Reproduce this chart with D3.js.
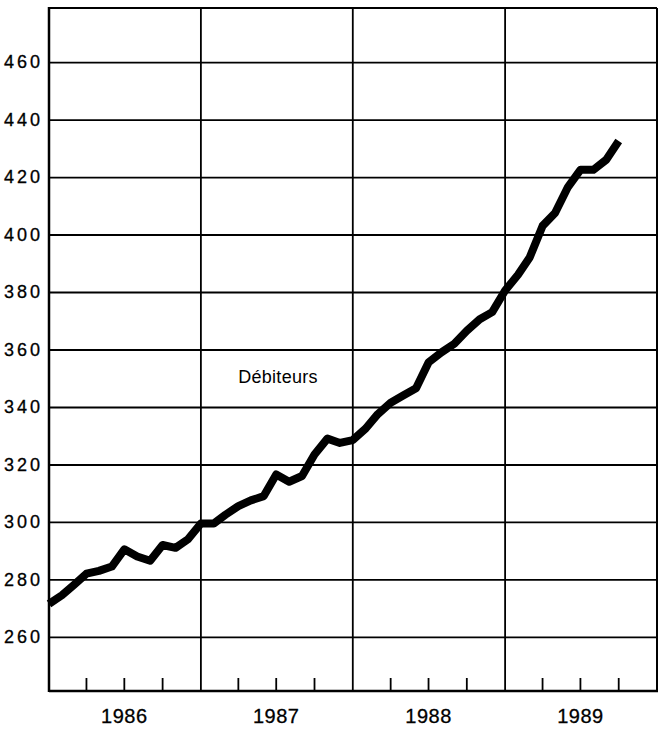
<!DOCTYPE html>
<html>
<head>
<meta charset="utf-8">
<script src="https://cdn.jsdelivr.net/npm/d3@7"></script>
<style>
  body { margin: 0; background: #fff; }
  text { font-family: "Liberation Sans", Arial, Helvetica, sans-serif; fill: #000; }
</style>
</head>
<body>
<script>

// monthly points, Jan 1986 to Oct 1989
let months = [
    '1986-01','1986-02','1986-03','1986-04','1986-05','1986-06','1986-07','1986-08','1986-09','1986-10','1986-11','1986-12',
    '1987-01','1987-02','1987-03','1987-04','1987-05','1987-06','1987-07','1987-08','1987-09','1987-10','1987-11','1987-12',
    '1988-01','1988-02','1988-03','1988-04','1988-05','1988-06','1988-07','1988-08','1988-09','1988-10','1988-11','1988-12',
    '1989-01','1989-02','1989-03','1989-04','1989-05','1989-06','1989-07','1989-08','1989-09','1989-10'
]

// Débiteurs
let values = [
    271.5, 274.5, 278, 282, 283, 284.5, 290.5, 288, 286.5, 292, 291, 294,
    299.5, 299.5, 302.5, 305.5, 307.5, 309, 316.5, 314, 316, 323.5, 329, 327.5,
    328.5, 332.5, 337.5, 341.5, 344, 346.5, 355.5, 359, 362, 366.5, 370.5, 373,
    380.5, 386, 392, 403, 407.5, 416.5, 422.5, 422.5, 426, 432.5
]

let yTicks = [260, 280, 300, 320, 340, 360, 380, 400, 420, 440, 460]
let years = ['1986', '1987', '1988', '1989']
let seriesLabel = 'Débiteurs'

let width = 661
let height = 732
let plotLeft = 49
let plotRight = 657
let plotTop = 8
let plotBottom = 691

let parseMonth = d3.timeParse('%Y-%m')
let parseYear = d3.timeParse('%Y')

let svg = d3.select('body')
            .append('svg')
            .attr('width', width)
            .attr('height', height)

let xScale = d3.scaleTime()
                .domain([parseYear('1986'), parseYear('1990')])
                .range([plotLeft, plotRight])

let yScale = d3.scaleLinear()
                .domain([241.2, 478.8])
                .range([plotBottom, plotTop])

// horizontal grid + labels
let yAxis = d3.axisLeft(yScale)
                .tickValues(yTicks)
                .tickSize(-(plotRight - plotLeft))
                .tickPadding(9)
                .tickFormat(d3.format('d'))

let yG = svg.append('g')
    .attr('transform', 'translate(' + plotLeft + ',0)')
    .call(yAxis)

yG.select('.domain').remove()
yG.selectAll('line')
    .attr('stroke', '#000')
    .attr('stroke-width', 1.8)
yG.selectAll('text')
    .attr('font-size', 18)
    .attr('letter-spacing', 3)
    .attr('dx', 3)
    .attr('stroke', '#000')
    .attr('stroke-width', 0.3)

// year boundaries
let yearStarts = years.slice(1).map((y) => parseYear(y))

svg.selectAll('.yearline')
    .data(yearStarts)
    .enter()
    .append('line')
    .attr('class', 'yearline')
    .attr('x1', (d) => xScale(d))
    .attr('x2', (d) => xScale(d))
    .attr('y1', plotTop)
    .attr('y2', plotBottom)
    .attr('stroke', '#000')
    .attr('stroke-width', 1.8)

// quarter ticks along the bottom
let quarters = []
years.forEach((y) => {
    ['04', '07', '10'].forEach((m) => {
        quarters.push(parseMonth(y + '-' + m))
    })
})

svg.selectAll('.qtick')
    .data(quarters)
    .enter()
    .append('line')
    .attr('class', 'qtick')
    .attr('x1', (d) => xScale(d))
    .attr('x2', (d) => xScale(d))
    .attr('y1', plotBottom)
    .attr('y2', plotBottom - 13)
    .attr('stroke', '#000')
    .attr('stroke-width', 1.8)

// year labels centred on each year
svg.selectAll('.yearlabel')
    .data(years)
    .enter()
    .append('text')
    .attr('class', 'yearlabel')
    .attr('x', (d) => xScale(parseMonth(d + '-07')))
    .attr('y', 723)
    .attr('text-anchor', 'middle')
    .attr('font-size', 20)
    .attr('letter-spacing', 0.5)
    .attr('stroke', '#000')
    .attr('stroke-width', 0.3)
    .text((d) => d)

// frame
svg.append('line').attr('x1', plotLeft).attr('x2', plotRight).attr('y1', plotTop).attr('y2', plotTop)
    .attr('stroke', '#000').attr('stroke-width', 2)
svg.append('line').attr('x1', plotRight).attr('x2', plotRight).attr('y1', plotTop).attr('y2', plotBottom)
    .attr('stroke', '#000').attr('stroke-width', 2)
svg.append('line').attr('x1', plotLeft).attr('x2', plotLeft).attr('y1', plotTop - 1).attr('y2', plotBottom + 1)
    .attr('stroke', '#000').attr('stroke-width', 2.5)
svg.append('line').attr('x1', plotLeft).attr('x2', plotRight + 1).attr('y1', plotBottom).attr('y2', plotBottom)
    .attr('stroke', '#000').attr('stroke-width', 2.5)

// the series
let points = months.map((m, i) => [parseMonth(m), values[i]])

let line = d3.line()
    .x((d) => xScale(d[0]))
    .y((d) => yScale(d[1]))

svg.append('path')
    .datum(points)
    .attr('d', line)
    .attr('fill', 'none')
    .attr('stroke', '#000')
    .attr('stroke-width', 8)
    .attr('stroke-linejoin', 'round')

svg.append('text')
    .attr('x', 278)
    .attr('y', 383)
    .attr('text-anchor', 'middle')
    .attr('font-size', 18)
    .attr('letter-spacing', 0.3)
    .text(seriesLabel)

</script>
</body>
</html>
